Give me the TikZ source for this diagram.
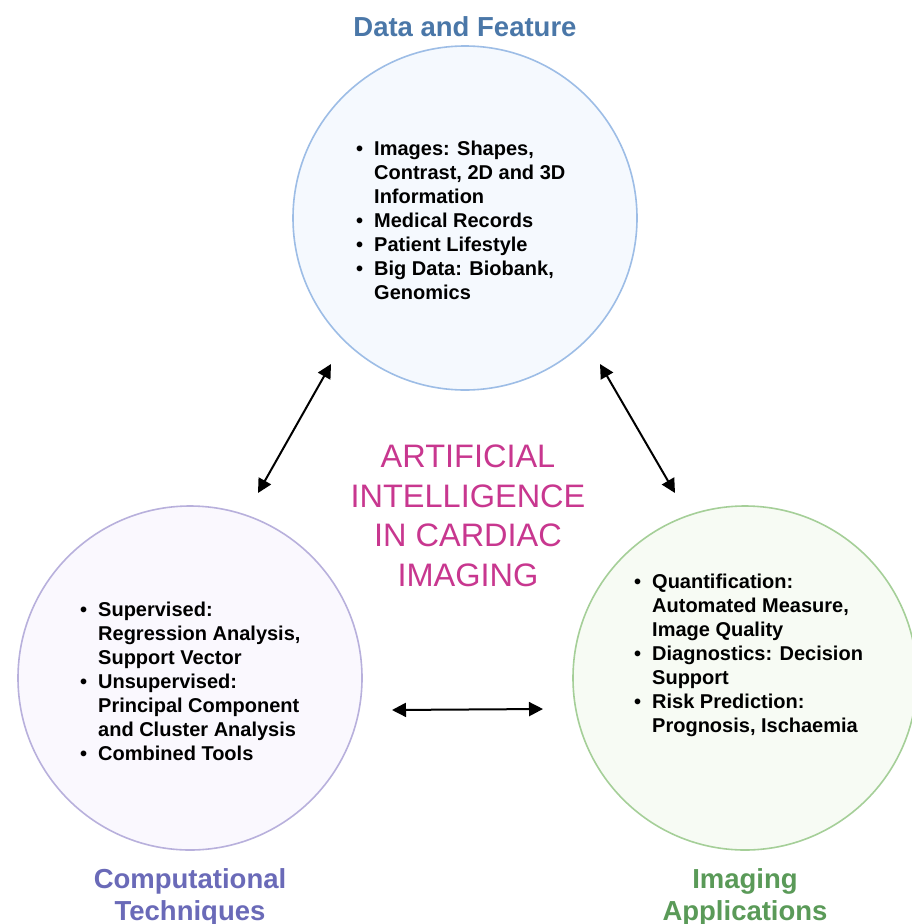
\documentclass[tikz,border=0pt]{standalone}
\usepackage{fontspec}
\setmainfont{Liberation Sans}
\usetikzlibrary{arrows.meta}
\definecolor{datafill}{HTML}{F5F9FE}
\definecolor{dataline}{HTML}{9DBDE6}
\definecolor{datatitle}{HTML}{4A77A8}
\definecolor{compfill}{HTML}{FAF8FE}
\definecolor{compline}{HTML}{B8B0DC}
\definecolor{comptitle}{HTML}{6A6AB8}
\definecolor{imgfill}{HTML}{F7FBF4}
\definecolor{imgline}{HTML}{A5CF98}
\definecolor{imgtitle}{HTML}{5A9A58}
\definecolor{aimag}{HTML}{C8378F}
\newcommand\itembul{\llap{\textbullet\hspace{11pt}}}
\begin{document}
\begin{tikzpicture}[x=1pt,y=-1pt,
  bigcircle/.style={circle, minimum size=344pt, inner sep=0pt, line width=1.6pt},
  listtext/.style={anchor=north west, inner sep=0pt, align=left, font=\bfseries\fontsize{20}{24}\selectfont},
  titletext/.style={anchor=base, inner sep=0pt, align=center, font=\bfseries\fontsize{27.5}{32}\selectfont},
  link/.style={line width=2pt, {Triangle[length=14pt,width=14pt]}-{Triangle[length=14pt,width=14pt]}}]
\useasboundingbox (0,0) rectangle (912,924);
\fill[white] (0,0) rectangle (912,924);
% circles
\node[bigcircle, draw=dataline, fill=datafill] (data) at (465,218) {};
\node[bigcircle, draw=compline, fill=compfill] (comp) at (190,678) {};
\node[bigcircle, draw=imgline, fill=imgfill] (img) at (745,678) {};
% titles
\node[titletext, text=datatitle] (datatitle) at (465,36) {Data and Feature};
\node[titletext, text=comptitle] (comptitle) at (190,920) {Computational\\Techniques};
\node[titletext, text=imgtitle] (imgtitle) at (745,920) {Imaging\\Applications};
% lists
\node[listtext] (datalist) at (374,141) {\itembul Images: Shapes,\\ Contrast, 2D and 3D\\ Information\\ \itembul Medical Records\\ \itembul Patient Lifestyle\\ \itembul Big Data: Biobank,\\ Genomics};
\node[listtext] (complist) at (98,602) {\itembul Supervised:\\ Regression Analysis,\\ Support Vector\\ \itembul Unsupervised:\\ Principal Component\\ and Cluster Analysis\\ \itembul Combined Tools};
\node[listtext] (imglist) at (652,574) {\itembul Quantification:\\ Automated Measure,\\ Image Quality\\ \itembul Diagnostics: Decision\\ Support\\ \itembul Risk Prediction:\\ Prognosis, Ischaemia};
% centre
\node[anchor=north, inner sep=0pt, align=center, text=aimag, font=\fontsize{32.5}{39.5}\selectfont] (ai) at (468,445) {ARTIFICIAL\\INTELLIGENCE\\IN CARDIAC\\IMAGING};
% arrows
\coordinate (ltA) at (258,493);
\coordinate (ltB) at (331,364);
\coordinate (rtA) at (600,364);
\coordinate (rtB) at (675,493);
\coordinate (hA) at (392,710);
\coordinate (hB) at (543,709);
\draw[link] (ltA) -- (ltB);
\draw[link] (rtA) -- (rtB);
\draw[link] (hA) -- (hB);
\end{tikzpicture}
\end{document}
